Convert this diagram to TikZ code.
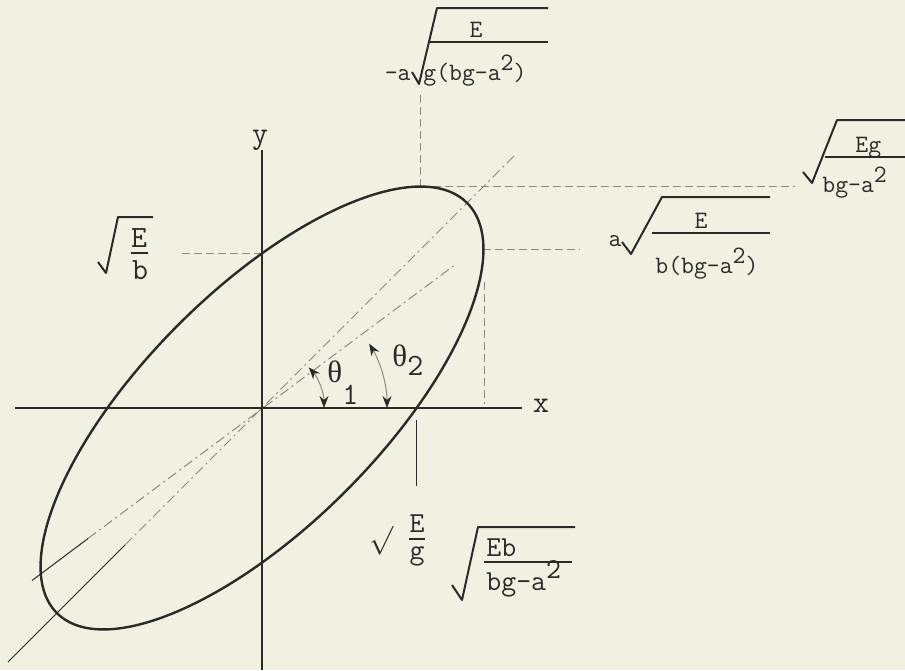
\documentclass[tikz,border=0pt]{standalone}
\usepackage{fontspec}
\newfontfamily\thfont{Liberation Serif}
\usetikzlibrary{arrows.meta}
\definecolor{paper}{HTML}{F2F0E1}
\definecolor{ink}{HTML}{2A2A27}
\definecolor{pencil}{HTML}{8A8A80}
\begin{document}
\begin{tikzpicture}[x=0.5pt,y=-0.5pt,
  axisline/.style={draw=ink,line width=1.4pt},
  oval/.style={draw=ink,line width=1.2pt},
  guide/.style={draw=pencil,line width=0.5pt,dash pattern=on 5pt off 2pt on 1pt off 2pt},
  proj/.style={draw=pencil,line width=0.5pt,dash pattern=on 4pt off 2pt},
  tickline/.style={draw=ink,line width=0.7pt},
  radix/.style={draw=ink,line width=1pt,line join=round},
  fracbar/.style={draw=ink,line width=0.9pt},
  sweep/.style={draw=pencil,line width=0.5pt,{Stealth[length=6pt,width=4.5pt,color=ink]}-{Stealth[length=6pt,width=4.5pt,color=ink]}},
  lblsm/.style={font=\ttfamily\fontsize{12.5}{14}\selectfont,text=ink,inner sep=0pt},
  lblmd/.style={font=\ttfamily\fontsize{14.5}{16}\selectfont,text=ink,inner sep=0pt},
  lblbg/.style={font=\ttfamily\fontsize{15.5}{17}\selectfont,text=ink,inner sep=0pt}]
\useasboundingbox (0,0) rectangle (905,670);
\fill[paper] (0,0) rectangle (905,670);
\coordinate (O) at (262,408);
\coordinate (ytop) at (262,150);
\coordinate (ybot) at (262,670);
\coordinate (xleft) at (15,408);
\coordinate (xright) at (522,408);
\coordinate (yint) at (262,253.4);
\coordinate (xint) at (416.6,408);
\coordinate (top) at (420.5,186.6);
\coordinate (right) at (483.4,249.5);
\coordinate (a1) at (8,662);
\coordinate (a2) at (125,545);
\coordinate (a3) at (515,155);
\coordinate (b1) at (32,580.5);
\coordinate (b2) at (88,538.5);
\coordinate (b3) at (455,264.8);
\coordinate (yproj) at (178,253.4);
\coordinate (topup) at (420.5,95);
\coordinate (topright) at (795,186.6);
\coordinate (rightproj) at (580,249.5);
\coordinate (rdown1) at (484,282);
\coordinate (rdown2) at (484,404);
\coordinate (xtick1) at (416.6,420);
\coordinate (xtick2) at (416.6,486);
\coordinate (th1a) at (324,408);
\coordinate (th2a) at (387,408);
\draw[guide] (a2) -- (a3);
\draw[tickline,line width=0.5pt] (a1) -- (a2);
\draw[guide] (b2) -- (b3);
\draw[tickline,line width=0.5pt] (b1) -- (b2);
\draw[proj] (yint) -- (yproj);
\draw[proj] (top) -- (topup);
\draw[proj] (top) -- (topright);
\draw[proj] (right) -- (rightproj);
\draw[proj] (rdown1) -- (rdown2);
\draw[tickline] (xtick1) -- (xtick2);
\draw[axisline] (xleft) -- (xright);
\draw[axisline] (ybot) -- (ytop);
\draw[oval,rotate around={45:(O)}] (O) ellipse [x radius=145pt,y radius=59pt];
\draw[sweep] (th1a) arc[start angle=0,end angle=41,radius=31pt];
\draw[sweep] (th2a) arc[start angle=0,end angle=31,radius=62.5pt];
\node[lblbg] (xlbl) at (541,406) {x};
\node[lblbg] (ylbl) at (260,140) {y};
\node[lblbg,anchor=base west] (th1) at (327,382) {{\thfont θ}\raisebox{-11pt}{1}};
\node[lblbg,anchor=base west] (th2) at (392,366) {{\thfont θ}\raisebox{-4.5pt}{2}};
\node[lblsm,anchor=base east] (l1a) at (411,80) {-a};
\draw[radix] (412,72) -- (419,84) -- (437,8) -- (548,8);
\draw[fracbar] (430,42) -- (548,42);
\node[lblsm,anchor=base] (l1num) at (476,37) {E};
\node[lblsm,anchor=base west] (l1den) at (423,80) {g(bg-a\raisebox{5pt}{2})};
\draw[radix] (803,172) -- (812,183) -- (837,120) -- (905,120);
\draw[fracbar] (825,157) -- (905,157);
\node[lblsm,anchor=base west] (l2num) at (855,152) {Eg};
\node[lblsm,anchor=base west] (l2den) at (822,192) {bg-a\raisebox{5pt}{2}};
\node[lblsm,anchor=base east] (l3a) at (622,246) {a};
\draw[radix] (622,242) -- (631,254) -- (662,197) -- (770,197);
\draw[fracbar] (652,233) -- (770,233);
\node[lblsm,anchor=base] (l3num) at (701,228) {E};
\node[lblsm,anchor=base west] (l3den) at (655,273) {b(bg-a\raisebox{5pt}{2})};
\draw[radix] (98,262) -- (106,273) -- (118,217) -- (153,217);
\draw[fracbar] (131,253) -- (148,253);
\node[lblbg,anchor=base] (l4num) at (139,247) {E};
\node[lblbg,anchor=base] (l4den) at (140,279) {b};
\node[lblmd,anchor=base] (l5root) at (381,548) {$\surd$};
\node[lblmd,anchor=base] (l5num) at (417,532) {E};
\draw[fracbar] (409,539) -- (425,539);
\node[lblmd,anchor=base] (l5den) at (417,559) {g};
\draw[radix] (452,585) -- (462,600) -- (478,527) -- (575,527);
\draw[fracbar] (484,562) -- (572,562);
\node[lblmd,anchor=base west] (l6num) at (486,556) {Eb};
\node[lblmd,anchor=base west] (l6den) at (486,590) {bg-a\raisebox{6pt}{2}};
\end{tikzpicture}
\end{document}
